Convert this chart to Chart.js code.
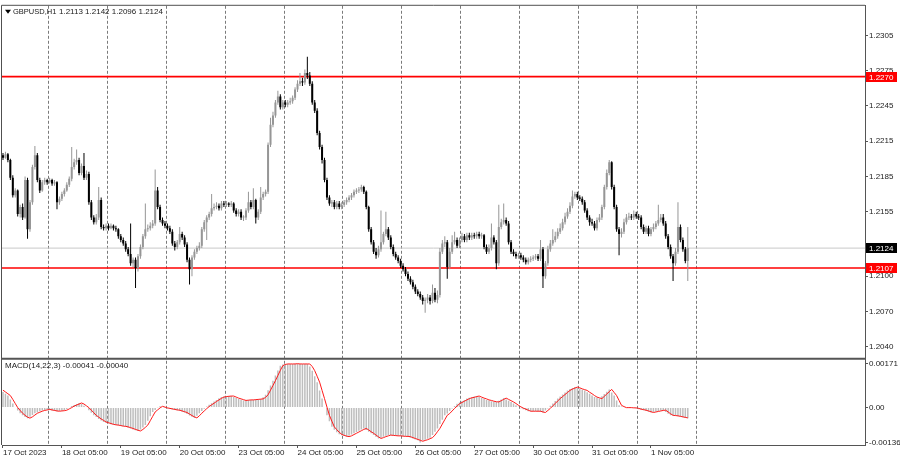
<!DOCTYPE html>
<html><head><meta charset="utf-8">
<script src="https://cdn.jsdelivr.net/npm/chart.js@4.4.0/dist/chart.umd.min.js"></script>
<style>html,body{margin:0;padding:0;background:#fff;overflow:hidden}</style>
</head><body>
<canvas id="c" width="900" height="460"></canvas>
<script>
// ---------- DATA ----------
const symbolName = 'GBPUSD,H1';
const lastQuote = '1.2113 1.2142 1.2096 1.2124';
const macdTitle = 'MACD(14,22,3) -0.00041 -0.00040';
const dayLabels = ['17 Oct 2023','18 Oct 05:00','19 Oct 05:00','20 Oct 05:00','23 Oct 05:00','24 Oct 05:00','25 Oct 05:00','26 Oct 05:00','27 Oct 05:00','30 Oct 05:00','31 Oct 05:00','1 Nov 05:00'];
const dayLabelBars = [0,24,48,72,96,120,144,168,192,216,240,264];
const dayBoundaryBars = [18.5,42.5,66.5,90.5,114.5,138.5,162.5,186.5,210.5,234.5,258.5,282.5];
const priceTicks = [1.2305,1.2275,1.2245,1.2215,1.2185,1.2155,1.2125,1.2100,1.2070,1.2040];
const macdTicks = [0.00171,0,-0.00136];
const resistanceLevel = 1.2270;
const supportLevel = 1.2107;
const bidPrice = 1.2124;

const opens = [
1.2203,1.2201,1.2204,1.2199,1.2184,1.2169,1.2173,1.2153,1.2159,1.2150,1.2182,1.2140,1.2163,1.2193,1.2203,1.2182,1.2173,1.2180,1.2182,1.2180,1.2182,1.2179,1.2180,1.2163,
1.2166,1.2170,1.2173,1.2178,1.2183,1.2193,1.2197,1.2199,1.2188,1.2194,1.2184,1.2187,1.2163,1.2150,1.2146,1.2150,1.2165,1.2142,1.2141,1.2143,1.2141,1.2143,1.2141,1.2140,
1.2134,1.2131,1.2128,1.2123,1.2119,1.2111,1.2114,1.2107,1.2117,1.2125,1.2134,1.2140,1.2141,1.2143,1.2145,1.2173,1.2159,1.2148,1.2145,1.2143,1.2141,1.2138,1.2128,1.2125,
1.2129,1.2136,1.2133,1.2127,1.2114,1.2106,1.2116,1.2121,1.2124,1.2126,1.2140,1.2146,1.2150,1.2153,1.2158,1.2159,1.2160,1.2158,1.2162,1.2161,1.2162,1.2161,1.2162,1.2156,
1.2153,1.2155,1.2150,1.2150,1.2156,1.2163,1.2159,1.2165,1.2150,1.2155,1.2167,1.2170,1.2172,1.2212,1.2229,1.2237,1.2248,1.2253,1.2244,1.2248,1.2246,1.2248,1.2249,1.2252,
1.2259,1.2264,1.2266,1.2265,1.2273,1.2271,1.2264,1.2248,1.2241,1.2222,1.2210,1.2199,1.2182,1.2167,1.2162,1.2163,1.2159,1.2162,1.2159,1.2161,1.2163,1.2165,1.2167,1.2169,
1.2172,1.2173,1.2174,1.2176,1.2172,1.2159,1.2140,1.2129,1.2121,1.2118,1.2123,1.2129,1.2136,1.2140,1.2133,1.2125,1.2119,1.2116,1.2113,1.2109,1.2106,1.2102,1.2098,1.2095,
1.2091,1.2087,1.2085,1.2082,1.2079,1.2080,1.2082,1.2079,1.2086,1.2080,1.2084,1.2121,1.2128,1.2129,1.2108,1.2121,1.2129,1.2131,1.2126,1.2131,1.2134,1.2131,1.2135,1.2133,
1.2135,1.2134,1.2136,1.2134,1.2135,1.2125,1.2121,1.2124,1.2133,1.2129,1.2111,1.2142,1.2146,1.2148,1.2145,1.2129,1.2121,1.2119,1.2117,1.2118,1.2116,1.2114,1.2112,1.2114,
1.2115,1.2116,1.2117,1.2115,1.2123,1.2100,1.2111,1.2123,1.2128,1.2131,1.2134,1.2138,1.2141,1.2146,1.2151,1.2155,1.2160,1.2168,1.2170,1.2167,1.2166,1.2163,1.2156,1.2150,
1.2146,1.2145,1.2141,1.2148,1.2150,1.2159,1.2176,1.2188,1.2197,1.2176,1.2159,1.2140,1.2136,1.2138,1.2146,1.2150,1.2151,1.2150,1.2153,1.2151,1.2150,1.2142,1.2138,1.2141,
1.2136,1.2140,1.2142,1.2145,1.2148,1.2150,1.2145,1.2134,1.2125,1.2117,1.2111,1.2121,1.2142,1.2131,1.2123,1.2113];
const highs = [
1.2205,1.2206,1.2205,1.2200,1.2186,1.2175,1.2174,1.2161,1.2162,1.2185,1.2184,1.2165,1.2195,1.2211,1.2205,1.2184,1.2182,1.2184,1.2183,1.2184,1.2183,1.2182,1.2181,1.2168,
1.2172,1.2175,1.2180,1.2185,1.2210,1.2200,1.2208,1.2201,1.2196,1.2205,1.2190,1.2189,1.2165,1.2152,1.2153,1.2176,1.2167,1.2144,1.2145,1.2145,1.2145,1.2144,1.2143,1.2141,
1.2136,1.2133,1.2130,1.2125,1.2145,1.2116,1.2116,1.2119,1.2127,1.2136,1.2162,1.2144,1.2146,1.2148,1.2191,1.2176,1.2161,1.2150,1.2147,1.2145,1.2143,1.2140,1.2130,1.2131,
1.2142,1.2138,1.2135,1.2129,1.2116,1.2118,1.2123,1.2126,1.2129,1.2142,1.2148,1.2152,1.2155,1.2170,1.2162,1.2163,1.2162,1.2164,1.2164,1.2164,1.2163,1.2164,1.2163,1.2158,
1.2157,1.2157,1.2152,1.2158,1.2172,1.2165,1.2175,1.2166,1.2157,1.2176,1.2172,1.2174,1.2214,1.2235,1.2240,1.2250,1.2258,1.2255,1.2250,1.2250,1.2250,1.2252,1.2254,1.2261,
1.2267,1.2273,1.2269,1.2276,1.2287,1.2274,1.2266,1.2250,1.2243,1.2224,1.2212,1.2201,1.2184,1.2169,1.2165,1.2165,1.2164,1.2164,1.2163,1.2165,1.2167,1.2169,1.2171,1.2174,
1.2175,1.2176,1.2178,1.2177,1.2173,1.2160,1.2142,1.2131,1.2124,1.2126,1.2156,1.2138,1.2155,1.2142,1.2135,1.2127,1.2121,1.2118,1.2115,1.2111,1.2108,1.2104,1.2100,1.2097,
1.2093,1.2089,1.2087,1.2084,1.2082,1.2085,1.2084,1.2093,1.2090,1.2088,1.2124,1.2131,1.2134,1.2131,1.2124,1.2135,1.2138,1.2133,1.2133,1.2137,1.2136,1.2137,1.2137,1.2137,
1.2137,1.2138,1.2138,1.2137,1.2136,1.2127,1.2127,1.2145,1.2135,1.2131,1.2161,1.2149,1.2162,1.2150,1.2147,1.2131,1.2123,1.2121,1.2120,1.2120,1.2118,1.2116,1.2116,1.2117,
1.2118,1.2119,1.2119,1.2131,1.2125,1.2113,1.2126,1.2131,1.2140,1.2138,1.2141,1.2145,1.2149,1.2154,1.2158,1.2163,1.2173,1.2172,1.2172,1.2169,1.2168,1.2165,1.2158,1.2152,
1.2149,1.2147,1.2150,1.2153,1.2161,1.2178,1.2191,1.2199,1.2198,1.2178,1.2161,1.2142,1.2141,1.2149,1.2153,1.2154,1.2153,1.2156,1.2155,1.2153,1.2152,1.2144,1.2143,1.2143,
1.2142,1.2145,1.2147,1.2161,1.2153,1.2153,1.2147,1.2136,1.2127,1.2119,1.2124,1.2163,1.2144,1.2133,1.2125,1.2142];
const lows = [
1.2199,1.2200,1.2197,1.2182,1.2167,1.2167,1.2151,1.2150,1.2148,1.2149,1.2132,1.2138,1.2161,1.2191,1.2180,1.2171,1.2172,1.2178,1.2178,1.2179,1.2177,1.2177,1.2157,1.2161,
1.2164,1.2168,1.2172,1.2176,1.2181,1.2191,1.2195,1.2186,1.2186,1.2182,1.2182,1.2161,1.2148,1.2144,1.2144,1.2148,1.2140,1.2139,1.2139,1.2139,1.2140,1.2139,1.2138,1.2132,
1.2129,1.2126,1.2121,1.2117,1.2109,1.2108,1.2090,1.2104,1.2115,1.2123,1.2132,1.2138,1.2139,1.2141,1.2143,1.2157,1.2146,1.2143,1.2141,1.2139,1.2136,1.2126,1.2122,1.2123,
1.2127,1.2131,1.2125,1.2112,1.2093,1.2100,1.2114,1.2119,1.2122,1.2124,1.2138,1.2131,1.2148,1.2151,1.2156,1.2157,1.2156,1.2156,1.2159,1.2159,1.2159,1.2159,1.2154,1.2151,
1.2151,1.2148,1.2147,1.2148,1.2154,1.2157,1.2157,1.2145,1.2148,1.2153,1.2165,1.2168,1.2170,1.2210,1.2227,1.2235,1.2246,1.2242,1.2242,1.2244,1.2244,1.2246,1.2247,1.2250,
1.2257,1.2262,1.2262,1.2263,1.2268,1.2262,1.2246,1.2239,1.2220,1.2208,1.2196,1.2180,1.2165,1.2160,1.2159,1.2157,1.2157,1.2157,1.2157,1.2159,1.2161,1.2163,1.2165,1.2167,
1.2170,1.2171,1.2172,1.2170,1.2157,1.2138,1.2127,1.2119,1.2115,1.2116,1.2121,1.2127,1.2134,1.2131,1.2123,1.2117,1.2114,1.2111,1.2107,1.2104,1.2100,1.2096,1.2093,1.2089,
1.2085,1.2083,1.2080,1.2076,1.2069,1.2077,1.2076,1.2077,1.2078,1.2077,1.2082,1.2119,1.2125,1.2098,1.2106,1.2119,1.2127,1.2124,1.2124,1.2129,1.2129,1.2129,1.2131,1.2131,
1.2132,1.2132,1.2132,1.2132,1.2123,1.2119,1.2119,1.2122,1.2127,1.2106,1.2109,1.2140,1.2144,1.2143,1.2127,1.2119,1.2117,1.2115,1.2115,1.2114,1.2112,1.2110,1.2110,1.2112,
1.2113,1.2114,1.2113,1.2113,1.2090,1.2098,1.2109,1.2121,1.2126,1.2129,1.2132,1.2136,1.2139,1.2144,1.2149,1.2153,1.2158,1.2166,1.2165,1.2164,1.2161,1.2154,1.2148,1.2143,
1.2143,1.2139,1.2139,1.2146,1.2148,1.2157,1.2174,1.2186,1.2174,1.2157,1.2138,1.2118,1.2133,1.2136,1.2144,1.2148,1.2148,1.2148,1.2149,1.2148,1.2140,1.2136,1.2136,1.2134,
1.2134,1.2138,1.2140,1.2143,1.2146,1.2143,1.2132,1.2123,1.2115,1.2096,1.2109,1.2119,1.2129,1.2121,1.2111,1.2096];
const closes = [
1.2201,1.2204,1.2199,1.2184,1.2169,1.2173,1.2153,1.2159,1.2150,1.2182,1.2140,1.2163,1.2193,1.2203,1.2182,1.2173,1.2180,1.2182,1.2180,1.2182,1.2179,1.2180,1.2163,1.2166,
1.2170,1.2173,1.2178,1.2183,1.2193,1.2197,1.2199,1.2188,1.2194,1.2184,1.2187,1.2163,1.2150,1.2146,1.2150,1.2165,1.2142,1.2141,1.2143,1.2141,1.2143,1.2141,1.2140,1.2134,
1.2131,1.2128,1.2123,1.2119,1.2111,1.2114,1.2107,1.2117,1.2125,1.2134,1.2140,1.2141,1.2143,1.2145,1.2173,1.2159,1.2148,1.2145,1.2143,1.2141,1.2138,1.2128,1.2125,1.2129,
1.2136,1.2133,1.2127,1.2114,1.2106,1.2116,1.2121,1.2124,1.2126,1.2140,1.2146,1.2150,1.2153,1.2158,1.2159,1.2160,1.2158,1.2162,1.2161,1.2162,1.2161,1.2162,1.2156,1.2153,
1.2155,1.2150,1.2150,1.2156,1.2163,1.2159,1.2165,1.2150,1.2155,1.2167,1.2170,1.2172,1.2212,1.2229,1.2237,1.2248,1.2253,1.2244,1.2248,1.2246,1.2248,1.2249,1.2252,1.2259,
1.2264,1.2266,1.2265,1.2273,1.2271,1.2264,1.2248,1.2241,1.2222,1.2210,1.2199,1.2182,1.2167,1.2162,1.2163,1.2159,1.2162,1.2159,1.2161,1.2163,1.2165,1.2167,1.2169,1.2172,
1.2173,1.2174,1.2176,1.2172,1.2159,1.2140,1.2129,1.2121,1.2118,1.2123,1.2129,1.2136,1.2140,1.2133,1.2125,1.2119,1.2116,1.2113,1.2109,1.2106,1.2102,1.2098,1.2095,1.2091,
1.2087,1.2085,1.2082,1.2079,1.2080,1.2082,1.2079,1.2086,1.2080,1.2084,1.2121,1.2128,1.2129,1.2108,1.2121,1.2129,1.2131,1.2126,1.2131,1.2134,1.2131,1.2135,1.2133,1.2135,
1.2134,1.2136,1.2134,1.2135,1.2125,1.2121,1.2124,1.2133,1.2129,1.2111,1.2142,1.2146,1.2148,1.2145,1.2129,1.2121,1.2119,1.2117,1.2118,1.2116,1.2114,1.2112,1.2114,1.2115,
1.2116,1.2117,1.2115,1.2123,1.2100,1.2111,1.2123,1.2128,1.2131,1.2134,1.2138,1.2141,1.2146,1.2151,1.2155,1.2160,1.2168,1.2170,1.2167,1.2166,1.2163,1.2156,1.2150,1.2146,
1.2145,1.2141,1.2148,1.2150,1.2159,1.2176,1.2188,1.2197,1.2176,1.2159,1.2140,1.2136,1.2138,1.2146,1.2150,1.2151,1.2150,1.2153,1.2151,1.2150,1.2142,1.2138,1.2141,1.2136,
1.2140,1.2142,1.2145,1.2148,1.2150,1.2145,1.2134,1.2125,1.2117,1.2111,1.2121,1.2142,1.2131,1.2123,1.2113,1.2124];

const macdMain = [
0.00061,0.00054,0.00047,0.00032,0.00016,0,-0.00011,-0.00022,-0.0003,-0.00037,-0.00041,-0.00036,-0.00029,-0.00022,-0.00018,-0.00014,-0.00011,-0.00009,-0.00007,-0.00009,-0.00011,-0.00013,-0.00014,-0.00013,
-0.00012,-0.0001,-0.00005,0,0.00006,0.0001,0.00014,0.00018,0.00014,0.00007,0,-0.0001,-0.0002,-0.0003,-0.00037,-0.00044,-0.0005,-0.00056,-0.00059,-0.00062,-0.00065,-0.00067,-0.00068,-0.0007,
-0.00072,-0.00073,-0.00075,-0.00078,-0.00081,-0.00085,-0.00088,-0.00091,-0.00085,-0.00077,-0.00068,-0.00051,-0.00034,-0.00017,-0.00009,-0.00001,0.00005,0.00002,-0.00001,-0.00003,-0.00005,-0.00007,-0.00009,-0.0001,
-0.00013,-0.00016,-0.00019,-0.00025,-0.00031,-0.00036,-0.0004,-0.00032,-0.00022,-0.00013,-0.00004,0.00004,0.00011,0.00017,0.00024,0.0003,0.00036,0.00041,0.00043,0.00044,0.00045,0.00045,0.00041,0.00037,
0.00034,0.00031,0.00028,0.00029,0.0003,0.0003,0.00031,0.00032,0.00033,0.00034,0.0004,0.0005,0.00068,0.00086,0.00105,0.00125,0.00145,0.00163,0.00168,0.0017,0.0017,0.0017,0.0017,0.00171,
0.00171,0.0017,0.0017,0.0017,0.0017,0.0016,0.00144,0.00122,0.00099,0.00067,0.00035,0.00002,-0.0003,-0.00053,-0.00075,-0.00086,-0.00096,-0.00104,-0.00108,-0.00111,-0.00113,-0.0011,-0.00105,-0.001,
-0.00095,-0.0009,-0.00085,-0.00081,-0.00087,-0.00094,-0.001,-0.00107,-0.00114,-0.0012,-0.00117,-0.00113,-0.0011,-0.00107,-0.00108,-0.00109,-0.0011,-0.0011,-0.00111,-0.00112,-0.00112,-0.00113,-0.00117,-0.0012,
-0.00124,-0.00127,-0.00136,-0.00128,-0.00125,-0.00121,-0.00117,-0.00107,-0.00094,-0.00081,-0.00064,-0.00047,-0.0003,-0.00023,-0.00013,-0.00003,0.00006,0.00015,0.0002,0.00025,0.0003,0.00035,0.00038,0.0004,
0.00043,0.00045,0.00041,0.00037,0.00034,0.0003,0.00028,0.00025,0.00023,0.00022,0.00027,0.00032,0.00037,0.00032,0.00027,0.00022,0.00016,0.00009,0.00003,-0.00002,-0.00006,-0.0001,-0.00014,-0.00014,
-0.00014,-0.00014,-0.00014,-0.00017,-0.00019,-0.00011,-0.00003,0.00007,0.00016,0.00026,0.00035,0.00043,0.00051,0.00059,0.00067,0.00072,0.00076,0.0008,0.00077,0.00073,0.0007,0.00067,0.0006,0.00054,
0.00047,0.00041,0.00038,0.00035,0.00044,0.00053,0.00062,0.00071,0.00059,0.00047,0.00028,0.00009,0.00004,0,0,0,-0.00001,-0.00001,-0.00003,-0.00006,-0.00008,-0.0001,-0.00013,-0.00016,
-0.00019,-0.00017,-0.00015,-0.00013,-0.00011,-0.0001,-0.00017,-0.00024,-0.0003,-0.00031,-0.00032,-0.00034,-0.00036,-0.00038,-0.0004,-0.00041];
const macdSignal = [
0.00068,0.00061,0.00054,0.00047,0.00032,0.00016,0,-0.00011,-0.00022,-0.0003,-0.00037,-0.00041,-0.00036,-0.00029,-0.00022,-0.00018,-0.00014,-0.00011,-0.00009,-0.00007,-0.00009,-0.00011,-0.00013,-0.00014,
-0.00013,-0.00012,-0.0001,-0.00005,0,0.00006,0.0001,0.00014,0.00018,0.00014,0.00007,0,-0.0001,-0.0002,-0.0003,-0.00037,-0.00044,-0.0005,-0.00056,-0.00059,-0.00062,-0.00065,-0.00067,-0.00068,
-0.0007,-0.00072,-0.00073,-0.00075,-0.00078,-0.00081,-0.00085,-0.00088,-0.00091,-0.00085,-0.00077,-0.00068,-0.00051,-0.00034,-0.00017,-0.00009,-0.00001,0.00005,0.00002,-0.00001,-0.00003,-0.00005,-0.00007,-0.00009,
-0.0001,-0.00013,-0.00016,-0.00019,-0.00025,-0.00031,-0.00036,-0.0004,-0.00032,-0.00022,-0.00013,-0.00004,0.00004,0.00011,0.00017,0.00024,0.0003,0.00036,0.00041,0.00043,0.00044,0.00045,0.00045,0.00041,
0.00037,0.00034,0.00031,0.00028,0.00029,0.0003,0.0003,0.00031,0.00032,0.00033,0.00034,0.0004,0.0005,0.00068,0.00086,0.00105,0.00125,0.00145,0.00163,0.00168,0.0017,0.0017,0.0017,0.0017,
0.00171,0.0017,0.0017,0.0017,0.0017,0.0017,0.0016,0.00144,0.00122,0.00099,0.00067,0.00035,0.00002,-0.0003,-0.00053,-0.00075,-0.00086,-0.00096,-0.00104,-0.00108,-0.00111,-0.00113,-0.0011,-0.00105,
-0.001,-0.00095,-0.0009,-0.00085,-0.00081,-0.00087,-0.00094,-0.001,-0.00107,-0.00114,-0.0012,-0.00117,-0.00113,-0.0011,-0.00107,-0.00108,-0.00109,-0.0011,-0.0011,-0.00111,-0.00112,-0.00112,-0.00113,-0.00117,
-0.0012,-0.00124,-0.00127,-0.00131,-0.00128,-0.00125,-0.00121,-0.00117,-0.00107,-0.00094,-0.00081,-0.00064,-0.00047,-0.0003,-0.00023,-0.00013,-0.00003,0.00006,0.00015,0.0002,0.00025,0.0003,0.00035,0.00038,
0.0004,0.00043,0.00045,0.00041,0.00037,0.00034,0.0003,0.00028,0.00025,0.00023,0.00022,0.00027,0.00032,0.00037,0.00032,0.00027,0.00022,0.00016,0.00009,0.00003,-0.00002,-0.00006,-0.0001,-0.00014,
-0.00014,-0.00014,-0.00014,-0.00014,-0.00017,-0.00019,-0.00011,-0.00003,0.00007,0.00016,0.00026,0.00035,0.00043,0.00051,0.00059,0.00067,0.00072,0.00076,0.0008,0.00077,0.00073,0.0007,0.00067,0.0006,
0.00054,0.00047,0.00041,0.00038,0.00035,0.00044,0.00053,0.00062,0.00071,0.00059,0.00047,0.00028,0.00009,0.00004,0,0,0,-0.00001,-0.00001,-0.00003,-0.00006,-0.00008,-0.0001,-0.00013,
-0.00016,-0.00019,-0.00017,-0.00015,-0.00013,-0.00011,-0.0001,-0.00017,-0.00024,-0.0003,-0.00031,-0.00032,-0.00034,-0.00036,-0.00038,-0.0004];

// ---------- STYLE / LAYOUT ----------
const X_MIN = -0.4, X_MAX = 351.2;
const BULL = '#969696', BEAR = '#000000';
const FONT = "'Liberation Sans', Arial, sans-serif";
const candleColors = closes.map((c, i) => c >= opens[i] ? BULL : BEAR);
const idx = closes.map((_, i) => i);

const overlay = {
  id: 'overlay',
  afterDraw(chart) {
    const { ctx, chartArea: a, scales } = chart;
    const y = scales.y, ym = scales.ym;
    ctx.save();
    ctx.strokeStyle = '#505050';
    ctx.lineWidth = 1;
    ctx.beginPath();
    ctx.moveTo(a.left - 0.5, a.bottom); ctx.lineTo(a.left - 0.5, a.top - 0.5); ctx.lineTo(a.right, a.top - 0.5);
    ctx.stroke();
    ctx.lineWidth = 2;
    ctx.strokeStyle = '#555555';
    ctx.beginPath(); ctx.moveTo(a.left - 1, y.bottom); ctx.lineTo(a.right + 1, y.bottom); ctx.stroke();
    ctx.font = '8px ' + FONT;
    ctx.textBaseline = 'middle';
    ctx.textAlign = 'left';
    [[resistanceLevel, '#ff0000'], [bidPrice, '#000000'], [supportLevel, '#ff0000']].forEach(([v, col]) => {
      const py = Math.round(y.getPixelForValue(v));
      ctx.fillStyle = col;
      ctx.fillRect(a.right + 1, py - 5, 31, 10);
      ctx.fillStyle = '#ffffff';
      ctx.fillText(v.toFixed(4), a.right + 4, py + 0.5);
    });
    ctx.fillStyle = '#000';
    ctx.beginPath();
    ctx.moveTo(a.left + 3, a.top + 4); ctx.lineTo(a.left + 9, a.top + 4); ctx.lineTo(a.left + 6, a.top + 8); ctx.closePath();
    ctx.fill();
    ctx.fillStyle = '#1a1a1a';
    ctx.font = '7.5px ' + FONT;
    ctx.fillText(symbolName, a.left + 11, a.top + 6);
    ctx.font = '8px ' + FONT;
    ctx.fillText(lastQuote, a.left + 57, a.top + 6);
    ctx.fillText(macdTitle, a.left + 3, ym.top + 7);
    ctx.restore();
  }
};

new Chart(document.getElementById('c'), {
  type: 'bar',
  data: {
    datasets: [
      { type: 'bar', label: 'wick', data: idx.map(i => ({ x: i, y: [lows[i], highs[i]] })),
        backgroundColor: candleColors, barThickness: 1, grouped: false, inflateAmount: 0, borderWidth: 0, yAxisID: 'y', xAxisID: 'x', order: 1 },
      { type: 'bar', label: 'body', data: idx.map(i => ({ x: i, y: [opens[i], closes[i]] })),
        backgroundColor: candleColors, barThickness: 2, minBarLength: 1, grouped: false, inflateAmount: 0, borderWidth: 0, yAxisID: 'y', xAxisID: 'x', order: 0 },
      { type: 'bar', label: 'MACD', data: idx.map(i => ({ x: i, y: macdMain[i] })),
        backgroundColor: '#bdbdbd', barThickness: 1.5, grouped: false, inflateAmount: 0, borderWidth: 0, yAxisID: 'ym', xAxisID: 'x', order: 3 },
      { type: 'line', label: 'Signal', data: idx.map(i => ({ x: i, y: macdSignal[i] })),
        borderColor: '#ff1a1a', borderWidth: 1, pointRadius: 0, tension: 0, yAxisID: 'ym', xAxisID: 'x', order: 2 },
      { type: 'line', label: 'bid', data: [{ x: X_MIN, y: bidPrice }, { x: X_MAX, y: bidPrice }],
        borderColor: '#c8c8c8', borderWidth: 1, pointRadius: 0, yAxisID: 'y', xAxisID: 'x', order: 6 },
      { type: 'line', label: 'res', data: [{ x: X_MIN, y: resistanceLevel }, { x: X_MAX, y: resistanceLevel }],
        borderColor: '#ff0000', borderWidth: 1.6, pointRadius: 0, yAxisID: 'y', xAxisID: 'x', order: 5 },
      { type: 'line', label: 'sup', data: [{ x: X_MIN, y: supportLevel }, { x: X_MAX, y: supportLevel }],
        borderColor: '#ff0000', borderWidth: 1.6, pointRadius: 0, yAxisID: 'y', xAxisID: 'x', order: 5 }
    ]
  },
  options: {
    responsive: false, animation: false, devicePixelRatio: 1, events: [],
    layout: { padding: { top: 2, left: 2, right: 0, bottom: 0 } },
    plugins: { legend: { display: false }, tooltip: { enabled: false } },
    scales: {
      x: {
        type: 'linear', position: 'bottom', min: X_MIN, max: X_MAX, offset: false,
        grid: { display: true, drawOnChartArea: false, drawTicks: true, tickLength: 3, color: '#555', offset: false },
        border: { display: true, color: '#555' },
        ticks: { autoSkip: false, maxRotation: 0, align: 'start', padding: 0, color: '#222', font: { family: FONT, size: 8 },
          callback: v => { const k = dayLabelBars.indexOf(v); return k >= 0 ? dayLabels[k] : ''; } },
        afterBuildTicks: s => { s.ticks = dayLabelBars.map(v => ({ value: v })); },
        afterFit: s => { s.height = 15; }
      },
      xg: {
        type: 'linear', position: 'bottom', min: X_MIN, max: X_MAX, offset: false,
        grid: { display: true, drawOnChartArea: true, drawTicks: false, color: '#7a7a7a', lineWidth: 1, offset: false },
        border: { display: false, dash: [3, 2] },
        ticks: { display: false },
        afterBuildTicks: s => { s.ticks = dayBoundaryBars.map(v => ({ value: v })); },
        afterFit: s => { s.height = 0; }
      },
      y: {
        type: 'linear', position: 'right', stack: 'panes', stackWeight: 356,
        min: 1.20298, max: 1.23303, offset: false,
        grid: { drawOnChartArea: false, tickLength: 3, color: '#555' },
        border: { color: '#555' },
        ticks: { padding: 1, color: '#222', font: { family: FONT, size: 8 }, callback: v => v.toFixed(4) },
        afterBuildTicks: s => { s.ticks = priceTicks.map(v => ({ value: v })); },
        afterFit: s => { s.width = 35; }
      },
      ym: {
        type: 'linear', position: 'right', stack: 'panes', stackWeight: 87,
        min: -0.001456, max: 0.001903, offset: false,
        grid: { drawOnChartArea: false, tickLength: 3, color: '#555' },
        border: { color: '#555' },
        ticks: { padding: 1, color: '#222', font: { family: FONT, size: 8 }, callback: v => v === 0 ? '0.00' : v.toFixed(5) },
        afterBuildTicks: s => { s.ticks = macdTicks.map(v => ({ value: v })); },
        afterFit: s => { s.width = 35; }
      }
    }
  },
  plugins: [overlay]
});
</script>
</body></html>
